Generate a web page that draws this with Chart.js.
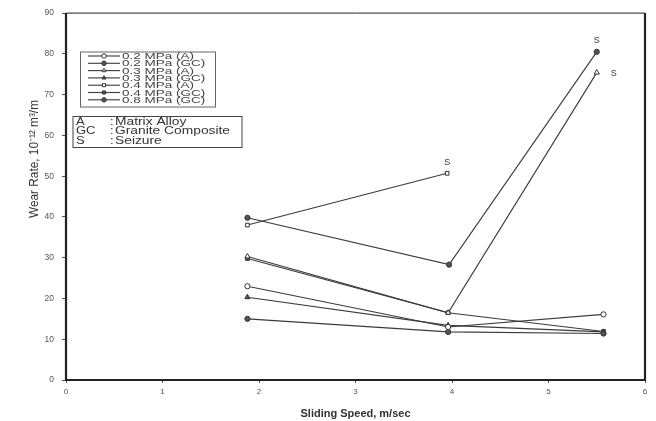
<!DOCTYPE html>
<html>
<head>
<meta charset="utf-8">
<script src="https://cdn.jsdelivr.net/npm/chart.js@4.4.1/dist/chart.umd.min.js"></script>
<style>
  html, body { margin: 0; padding: 0; background: #fff; }
  #wrap { width: 656px; height: 421px; position: relative; }
</style>
</head>
<body>
<div id="wrap"><canvas id="c" width="656" height="421"></canvas></div>
<script>
// Sliding speed (m/s) for each test series
const speed02A  = [1.88, 3.96, 5.57];
const speed02GC = [1.88, 3.96, 5.57];
const speed03A  = [1.88, 3.96, 5.50];
const speed03GC = [1.88, 3.96, 5.57];
const speed04A  = [1.88, 3.95];
const speed04GC = [1.88, 3.96, 5.57];
const speed08GC = [1.88, 3.97, 5.50];

// Wear rate (10^-12 m^3/m)
const wear02A  = [23.0, 13.0, 16.1];
const wear02GC = [15.0, 11.8, 11.4];
const wear03A  = [30.3, 16.5, 75.4];
const wear03GC = [20.3, 13.4, 11.8];
const wear04A  = [38.0, 50.7];
const wear04GC = [29.8, 16.5, 11.9];
const wear08GC = [39.8, 28.3, 80.5];

const seriesLabels = ['0.2 MPa (A)', '0.2 MPa (GC)', '0.3 MPa (A)', '0.3 MPa (GC)',
                      '0.4 MPa (A)', '0.4 MPa (GC)', '0.8 MPa (GC)'];
const xTicks = [0, 1, 2, 3, 4, 5, 6];
const yTicks = [0, 10, 20, 30, 40, 50, 60, 70, 80, 90];

// Seizure markers: [speed, wear, label side]
const seizurePoints = [[3.95, 50.7, 'above'], [5.50, 80.5, 'above'], [5.50, 75.4, 'right']];

const notes = [['A', 'Matrix Alloy'], ['GC', 'Granite Composite'], ['S', 'Seizure']];

const yTitle = 'Wear Rate, 10\u207B\u00B9\u00B2 m\u00B3/m';

const LINE = '#3a3a3a';
const pts = (xs, ys) => xs.map((x, i) => ({ x, y: ys[i] }));

const styles = [
  { style: 'circle',   filled: false },
  { style: 'circle',   filled: true  },
  { style: 'triangle', filled: false },
  { style: 'triangle', filled: true  },
  { style: 'rect',     filled: false },
  { style: 'rect',     filled: true  },
  { style: 'circle',   filled: true  }
];
const rawData = [
  pts(speed02A, wear02A), pts(speed02GC, wear02GC), pts(speed03A, wear03A),
  pts(speed03GC, wear03GC), pts(speed04A, wear04A), pts(speed04GC, wear04GC),
  pts(speed08GC, wear08GC)
];

const datasets = rawData.map((d, i) => ({
  label: seriesLabels[i],
  data: d,
  showLine: true,
  borderColor: LINE,
  borderWidth: 1.1,
  pointStyle: styles[i].style,
  pointRadius: styles[i].style === 'triangle' ? 3 : 2.6,
  pointBorderWidth: 1,
  pointBorderColor: '#333',
  pointBackgroundColor: styles[i].filled ? '#555' : '#fff'
}));

const FONT = "'Liberation Sans', Arial, sans-serif";

// draw text stretched horizontally by factor sx
function wideText(ctx, text, x, y, sx) {
  ctx.save();
  ctx.translate(x, y);
  ctx.scale(sx, 1);
  ctx.fillText(text, 0, 0);
  ctx.restore();
}

const decor = {
  id: 'decor',
  afterDatasetsDraw(chart) {
    const { ctx, chartArea: a, scales: { x, y } } = chart;
    ctx.save();
    // frame
    ctx.strokeStyle = '#222';
    ctx.lineWidth = 1;
    ctx.beginPath();
    ctx.moveTo(a.left, a.top); ctx.lineTo(a.right, a.top);
    ctx.stroke();
    ctx.lineWidth = 2.2;
    ctx.beginPath();
    ctx.moveTo(a.left, a.top); ctx.lineTo(a.left, a.bottom);
    ctx.lineTo(a.right, a.bottom); ctx.lineTo(a.right, a.top);
    ctx.stroke();

    // y-axis title, condensed
    ctx.save();
    ctx.translate(35, 159);
    ctx.rotate(-Math.PI / 2);
    ctx.font = '12px ' + FONT;
    const tw = ctx.measureText(yTitle).width;
    ctx.scale(118 / tw, 1);
    ctx.fillStyle = '#333';
    ctx.textAlign = 'center';
    ctx.textBaseline = 'middle';
    ctx.fillText(yTitle, 0, 0);
    ctx.restore();

    // seizure labels
    ctx.fillStyle = '#333';
    ctx.font = '9px ' + FONT;
    ctx.textBaseline = 'middle';
    seizurePoints.forEach(([sx, sy, pos]) => {
      const px = x.getPixelForValue(sx), py = y.getPixelForValue(sy);
      if (pos === 'above') { ctx.textAlign = 'center'; ctx.fillText('S', px, py - 11); }
      else { ctx.textAlign = 'left'; ctx.fillText('S', px + 14, py + 1); }
    });

    // series legend
    const lx = 80, ly = 51.5, lw = 135, lh = 55;
    ctx.fillStyle = '#fff';
    ctx.fillRect(lx, ly, lw, lh);
    ctx.strokeStyle = '#666'; ctx.lineWidth = 1;
    ctx.strokeRect(lx + 0.5, ly + 0.5, lw, lh);
    ctx.font = '9.5px ' + FONT;
    ctx.textAlign = 'left';
    datasets.forEach((ds, i) => {
      const ry = 56 + i * 7.3;
      ctx.strokeStyle = LINE; ctx.lineWidth = 1.1;
      ctx.beginPath(); ctx.moveTo(88, ry); ctx.lineTo(120, ry); ctx.stroke();
      ctx.fillStyle = ds.pointBackgroundColor;
      ctx.strokeStyle = '#333'; ctx.lineWidth = 1;
      Chart.helpers.drawPoint(ctx, { pointStyle: ds.pointStyle, radius: 2.2, borderWidth: 1 }, 104, ry);
      ctx.fillStyle = '#444';
      wideText(ctx, ds.label, 122, ry + 0.5, 1.42);
    });

    // abbreviation box
    const bx = 72.5, by = 116, bw = 169, bh = 31;
    ctx.fillStyle = '#fff';
    ctx.fillRect(bx, by, bw, bh);
    ctx.strokeStyle = '#444'; ctx.lineWidth = 1;
    ctx.strokeRect(bx + 0.5, by + 0.5, bw, bh);
    ctx.font = '10px ' + FONT;
    ctx.fillStyle = '#333';
    notes.forEach(([k, v], i) => {
      const ry = 122 + i * 9.6;
      wideText(ctx, k, 76, ry, 1.3);
      wideText(ctx, ':', 110, ry, 1.3);
      wideText(ctx, v, 115, ry, 1.38);
    });
    ctx.restore();
  }
};

new Chart(document.getElementById('c'), {
  type: 'scatter',
  data: { datasets },
  options: {
    responsive: false,
    animation: false,
    devicePixelRatio: 1,
    layout: { padding: { top: 12, right: 11, left: 0, bottom: 0 } },
    plugins: { legend: { display: false }, tooltip: { enabled: false } },
    scales: {
      x: {
        type: 'linear', min: 0, max: 6,
        afterBuildTicks: s => { s.ticks = xTicks.map(v => ({ value: v })); },
        afterFit: s => { s.height = 41; },
        grid: { drawOnChartArea: false, drawTicks: true, tickLength: 3, color: '#555' },
        border: { display: false },
        ticks: { color: '#555', font: { size: 8, family: FONT }, padding: 4 },
        title: { display: true, text: 'Sliding Speed, m/sec', color: '#333',
                 font: { size: 11, weight: 'bold', family: FONT }, padding: { top: 2, bottom: 0 } }
      },
      y: {
        type: 'linear', min: 0, max: 90,
        afterBuildTicks: s => { s.ticks = yTicks.map(v => ({ value: v })); },
        afterFit: s => { s.width = 66; },
        grid: { drawOnChartArea: false, drawTicks: true, tickLength: 4, color: '#555' },
        border: { display: false },
        ticks: { color: '#555', font: { size: 8.5, family: FONT }, padding: 8 },
        title: { display: false }
      }
    }
  },
  plugins: [decor]
});
</script>
</body>
</html>
